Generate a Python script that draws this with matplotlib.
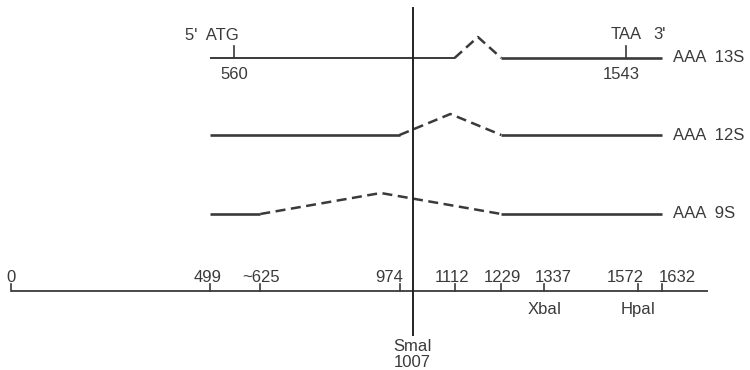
import matplotlib
matplotlib.use("Agg")
import matplotlib.pyplot as plt
from matplotlib import font_manager

# ---- data ----
axis_ticks = [0, 499, 625, 974, 1112, 1229, 1337, 1572, 1632]
axis_labels = ['0', '499', '~625', '974', '1112', '1229', '1337', '1572', '1632']
axis_end = 1747
transcripts = ['13S', '12S', '9S']
exon1_start = [499, 499, 499]
exon1_end = [1112, 974, 625]
exon2_start = [1229, 1229, 1229]
exon2_end = [1632, 1632, 1632]
atg_pos = 560
taa_pos = 1543
sma_pos = 1007
sites = ['XbaI', 'HpaI']
site_pos = [1337, 1572]

# ---- layout (pixel rows / label nudges in px) ----
row_y = [58, 135, 214]
axis_y = 291
peak_h = 21
label_dx = [0, -2, 1, -10, -3, 1, 9, -13, 15]
col = '#3a3a3a'
FS = 12

names = {f.name for f in font_manager.fontManager.ttflist}
FAM = ['Liberation Sans Narrow'] if 'Liberation Sans Narrow' in names else ['Liberation Sans']
plt.rcParams['font.family'] = FAM + ['DejaVu Sans']

fig = plt.figure(figsize=(7.5, 3.7), dpi=100)
ax = fig.add_axes([0, 0, 1, 1])
scale = 651 / 1632.0
ax.set_xlim(-11 / scale, (750 - 11) / scale)
ax.set_ylim(370, 0)
ax.axis('off')
px = 1 / scale

for i, name in enumerate(transcripts):
    y = row_y[i]
    lw1 = 1.4 if i == 0 else 1.9
    ax.plot([exon1_start[i], exon1_end[i]], [y, y], color=col, lw=lw1,
            solid_capstyle='butt')
    ax.plot([exon2_start[i], exon2_end[i]], [y, y], color=col, lw=1.9,
            solid_capstyle='butt')
    mid = (exon1_end[i] + exon2_start[i]) / 2.0
    ax.plot([exon1_end[i], mid, exon2_start[i]], [y, y - peak_h, y],
            color=col, lw=1.8, dashes=(4, 2.2))
    ax.text(exon2_end[i] + 11 * px, y, 'AAA  ' + name, fontsize=FS, color=col,
            ha='left', va='center')

# ATG / TAA markers on 13S
y0 = row_y[0]
ax.plot([atg_pos, atg_pos], [y0 - 12, y0], color=col, lw=1.2)
ax.plot([taa_pos, taa_pos], [y0 - 12, y0], color=col, lw=1.2)
ax.text(atg_pos + 4 * px, 40, "5'  ATG", fontsize=FS, color=col, ha='right', va='baseline')
ax.text(atg_pos, 79, str(atg_pos), fontsize=FS, color=col, ha='center', va='baseline')
ax.text(taa_pos, 39, "TAA", fontsize=FS, color=col, ha='center', va='baseline')
ax.text(taa_pos + 33 * px, 39, "3'", fontsize=FS, color=col, ha='center', va='baseline')
ax.text(taa_pos - 5 * px, 79, str(taa_pos), fontsize=FS, color=col, ha='center', va='baseline')

# coordinate axis
ax.plot([0, axis_end], [axis_y, axis_y], color=col, lw=1.3, solid_capstyle='butt')
for t, lab, dx in zip(axis_ticks, axis_labels, label_dx):
    ax.plot([t, t], [axis_y - 7, axis_y], color=col, lw=1.2)
    ax.text(t + dx * px, 282, lab, fontsize=FS, color=col, ha='center', va='baseline')
for s, p in zip(sites, site_pos):
    ax.text(p, 314, s, fontsize=FS, color=col, ha='center', va='baseline')

# SmaI vertical line
ax.plot([sma_pos, sma_pos], [8, 335], color='#222222', lw=1.4)
ax.text(sma_pos, 351, 'SmaI', fontsize=FS, color=col, ha='center', va='baseline')
ax.text(sma_pos, 367, str(sma_pos), fontsize=FS, color=col, ha='center', va='baseline')

fig.savefig('out.png', dpi=100)
